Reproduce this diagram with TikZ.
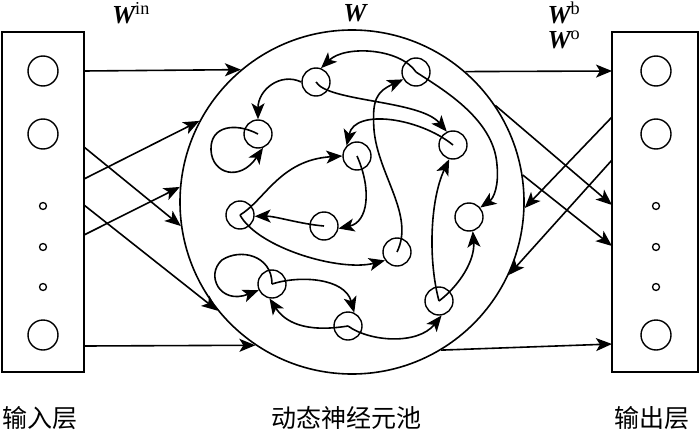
\documentclass[tikz,border=0pt]{standalone}
\usepackage{fontspec}
\setmainfont{Liberation Serif}
\newfontfamily\cjk{Noto Sans CJK SC}
\usetikzlibrary{arrows.meta}
\begin{document}
\begin{tikzpicture}[x=1pt,y=-1pt,
  neuron/.style={circle,draw,line width=1.4pt,minimum size=28pt,inner sep=0pt},
  io/.style={circle,draw,line width=1.4pt,minimum size=30pt,inner sep=0pt},
  dotn/.style={circle,draw,line width=1.3pt,minimum size=7pt,inner sep=0pt},
  layer/.style={draw,line width=1.6pt,minimum height=340pt,inner sep=0pt},
  conn/.style={line width=1.6pt,-{Stealth[length=16pt,width=13pt,inset=4pt]}},
  wlab/.style={font=\fontsize{26}{28}\selectfont\bfseries\itshape},
  cnlab/.style={font=\cjk\fontsize{25}{28}\selectfont}]
\useasboundingbox (0,0) rectangle (700,433);
\fill[white] (0,0) rectangle (700,433);
% layers
\node[layer,minimum width=82pt] (inbox) at (43,202) {};
\node[layer,minimum width=86pt] (outbox) at (655,202) {};
\foreach \nm/\y in {in1/71,in2/134,in3/335} \node[io] (\nm) at (43,\y) {};
\foreach \nm/\y in {ind1/206,ind2/247,ind3/287} \node[dotn] (\nm) at (43,\y) {};
\foreach \nm/\y in {out1/71,out2/134,out3/335} \node[io] (\nm) at (656,\y) {};
\foreach \nm/\y in {outd1/206,outd2/247,outd3/287} \node[dotn] (\nm) at (656,\y) {};
% pool
\node[circle,draw,line width=1.6pt,minimum size=344pt,inner sep=0pt] (pool) at (352,202) {};
% neurons
\node[neuron] (n1) at (316,82) {};
\node[neuron] (n2) at (416,72) {};
\node[neuron] (n3) at (258,134) {};
\node[neuron] (n4) at (357,156) {};
\node[neuron] (n5) at (453,145) {};
\node[neuron] (n6) at (240,215) {};
\node[neuron] (n7) at (324,226) {};
\node[neuron] (n8) at (469,217) {};
\node[neuron] (n9) at (397,252) {};
\node[neuron] (n10) at (272,284) {};
\node[neuron] (n11) at (439,301) {};
\node[neuron] (n12) at (348,326) {};
% connector end points on the layer boxes
\coordinate (l71) at (84,71);
\coordinate (l147) at (84,147);
\coordinate (l179) at (84,179);
\coordinate (l205) at (84,205);
\coordinate (l235) at (84,235);
\coordinate (l346) at (84,346);
\coordinate (r71) at (612,71);
\coordinate (r117) at (612,117);
\coordinate (r160) at (612,160);
\coordinate (r205) at (612,205);
\coordinate (r246) at (612,246);
\coordinate (r344) at (612,344);
% input connections
\draw[conn] (l71) -- (pool.130.4);
\draw[conn] (l179) -- (pool.152.3);
\draw[conn] (l147) -- (pool.188.1);
\draw[conn] (l235) -- (pool.175.1);
\draw[conn] (l205) -- (pool.219.4);
\draw[conn] (l346) -- (pool.236.9);
% output connections
\draw[conn] (pool.49.6) -- (r71);
\draw[conn] (pool.34.2) -- (r205);
\draw[conn] (pool.9.8) -- (r246);
\draw[conn] (pool.301.8) -- (r344);
\draw[conn] (r117) -- (pool.-2.6);
\draw[conn] (r160) -- (pool.-25.2);
% internal connections
\draw[conn] (n2.center) .. controls (400,48) and (345,45) .. (n1.70);
\draw[conn] (n2.center) .. controls (440,88) and (494,118) .. (497,165) .. controls (499,185) and (494,198) .. (n8.40);
\draw[conn] (n1.180) .. controls (280,72) and (258,90) .. (n3.90);
\draw[conn] (n3.center) .. controls (235,122) and (210,126) .. (211,150) .. controls (212,174) and (240,182) .. (n3.-70);
\draw[conn] (n6.center) .. controls (265,200) and (280,160) .. (n4.180);
\draw[conn] (n5.center) .. controls (420,118) and (355,108) .. (n4.135);
\draw[conn] (n1.center) .. controls (328,102) and (420,100) .. (n5.115);
\draw[conn] (n9.center) .. controls (415,215) and (378,175) .. (374,130) .. controls (372,100) and (376,92) .. (n2.210);
\draw[conn] (n4.center) .. controls (372,190) and (368,222) .. (n7.-10);
\draw[conn] (n7.center) .. controls (300,224) and (275,216) .. (n6.-5);
\draw[conn] (n6.center) .. controls (258,248) and (340,272) .. (n9.-145);
\draw[conn] (n10.center) .. controls (272,255) and (240,248) .. (222,260) .. controls (205,275) and (220,305) .. (n10.-155);
\draw[conn] (n10.center) .. controls (300,275) and (345,278) .. (n12.65);
\draw[conn] (n12.center) .. controls (305,333) and (285,322) .. (n10.-100);
\draw[conn] (n12.center) .. controls (370,342) and (418,345) .. (n11.-80);
\draw[conn] (n11.center) .. controls (428,260) and (430,200) .. (n5.-105);
\draw[conn] (n11.center) .. controls (460,285) and (475,260) .. (n8.-75);
% labels
\node[wlab] (win) at (131,13) {W\textsuperscript{\mdseries\upshape in}};
\node[wlab] (wres) at (355,13) {W};
\node[wlab,anchor=west] (wb) at (544,13) {W\textsuperscript{\mdseries\upshape b}};
\node[wlab,anchor=west] (wo) at (544,40) {W\textsuperscript{\mdseries\upshape o}};
\node[cnlab] (lin) at (40,418) {输入层};
\node[cnlab] (lpool) at (346,418) {动态神经元池};
\node[cnlab] (lout) at (652,418) {输出层};
\end{tikzpicture}
\end{document}
